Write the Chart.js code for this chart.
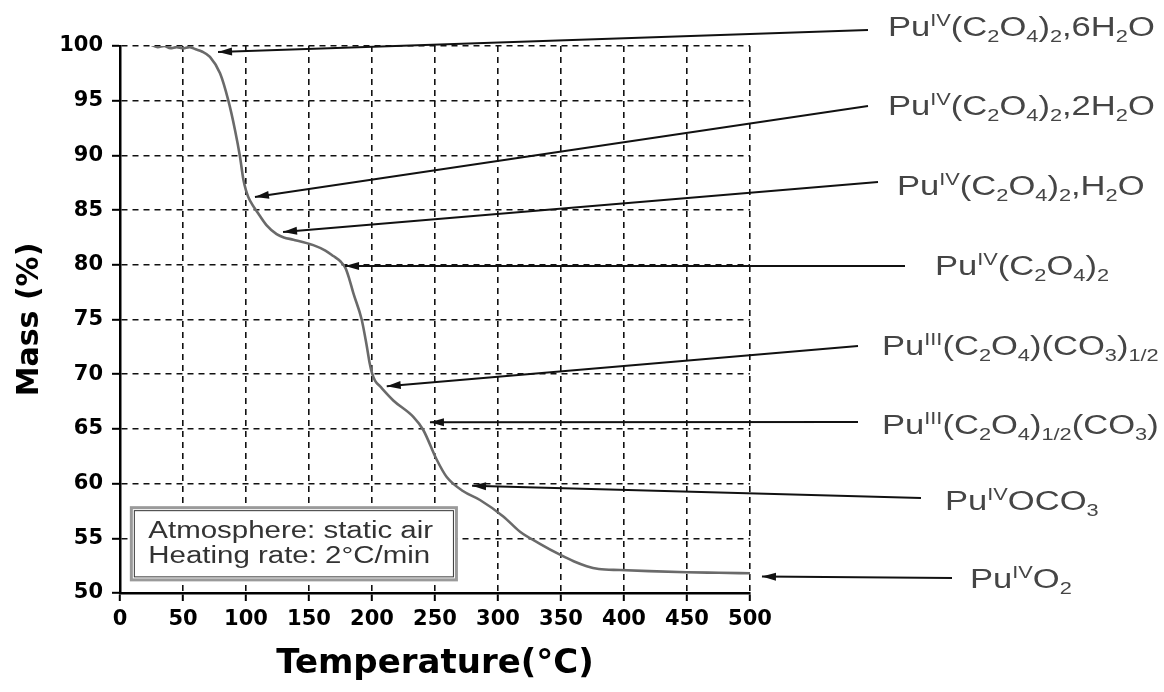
<!DOCTYPE html>
<html>
<head>
<meta charset="utf-8">
<script src="https://cdn.jsdelivr.net/npm/chart.js@4.4.1/dist/chart.umd.min.js"></script>
<style>
  html, body { margin: 0; padding: 0; background: #fff; }
  #wrap { width: 1164px; height: 692px; position: relative; }
</style>
</head>
<body>
<div id="wrap"><canvas id="tga"></canvas></div>
<script>
// TGA of Pu(IV) oxalate hexahydrate — mass loss vs temperature

// ── DATA ─────────────────────────────────────────────
const TEMP = [25, 30, 35, 40, 45, 50, 55, 60, 65, 71.4, 79.4, 86, 91.3, 95.2, 97.9, 100, 101.8,
  105, 108.5, 116.4, 124.3, 130, 137.6, 153.4, 163, 169.3, 175, 179, 182, 185.2, 191.8, 195.8,
  198, 200, 202.5, 206.3, 216.9, 232.8, 240.7, 251.3, 259.3, 272.5, 285.7, 304.2, 317.5,
  333.3, 349.2, 360, 370.4, 380, 396.8, 420, 449.7, 475, 500];
const MASS = [100.1, 99.9, 100.0, 99.8, 99.9, 99.8, 99.9, 99.7, 99.5, 99.0, 97.5, 95.0, 92.3, 89.9, 87.8, 86.8, 86.2,
  85.5, 84.9, 83.6, 82.8, 82.5, 82.3, 81.8, 81.3, 80.8, 80.3, 79.7, 78.7, 77.4, 75.0, 72.6,
  71.1, 70.1, 69.4, 68.9, 67.6, 66.1, 64.9, 62.2, 60.6, 59.3, 58.5, 57.0, 55.6,
  54.5, 53.5, 52.9, 52.45, 52.2, 52.1, 52.0, 51.9, 51.85, 51.8];

const X_TICKS = [0, 50, 100, 150, 200, 250, 300, 350, 400, 450, 500];
const Y_TICKS = [50, 55, 60, 65, 70, 75, 80, 85, 90, 95, 100];

// species labels (^{} superscript, _{} subscript)
const SPECIES = [
  'Pu^{IV}(C_{2}O_{4})_{2},6H_{2}O',
  'Pu^{IV}(C_{2}O_{4})_{2},2H_{2}O',
  'Pu^{IV}(C_{2}O_{4})_{2},H_{2}O',
  'Pu^{IV}(C_{2}O_{4})_{2}',
  'Pu^{III}(C_{2}O_{4})(CO_{3})_{1/2}',
  'Pu^{III}(C_{2}O_{4})_{1/2}(CO_{3})',
  'Pu^{IV}OCO_{3}',
  'Pu^{IV}O_{2}'
];
// where each arrow points on the curve (°C, mass %)
const ARROW_T = [77.8, 107.1, 129.4, 178.6, 211.7, 246, 279.4, 509.5];
const ARROW_M = [99.45, 86.2, 83.0, 79.9, 68.9, 65.6, 59.8, 51.5];

const NOTE_LINES = ['Atmosphere: static air', 'Heating rate: 2°C/min'];

// ── LAYOUT (pixels) ──────────────────────────────────
const TAIL_X = [868, 868, 878, 905, 858, 858, 921, 952];
const TAIL_Y = [30, 106, 182, 266, 346, 422, 498, 578];
const TEXT_X = [888, 888, 897, 935, 882, 882, 945, 970];
const TEXT_Y = [36, 115, 195, 275, 355, 434, 510, 588];
const STRETCH = 1.28;

function parseRich(s) {
  const out = [];
  const re = /([\^_])\{([^}]*)\}|([^\^_]+)/g;
  let m;
  while ((m = re.exec(s))) {
    if (m[3]) out.push({ t: m[3], k: 'n' });
    else out.push({ t: m[2], k: m[1] === '^' ? 'sup' : 'sub' });
  }
  return out;
}

function drawRich(ctx, str, x, y) {
  ctx.save();
  ctx.translate(x, y);
  ctx.scale(STRETCH, 1);
  ctx.textBaseline = 'alphabetic';
  ctx.textAlign = 'left';
  let cx = 0;
  parseRich(str).forEach(p => {
    let dy = 0;
    if (p.k === 'n') ctx.font = '27px "Liberation Sans", Arial, sans-serif';
    else ctx.font = '17px "Liberation Sans", Arial, sans-serif';
    if (p.k === 'sup') dy = -10;
    if (p.k === 'sub') dy = 6;
    ctx.fillText(p.t, cx, dy);
    cx += ctx.measureText(p.t).width;
  });
  ctx.restore();
}

function arrow(ctx, x1, y1, x2, y2) {
  // line from (x1,y1) to tip (x2,y2)
  ctx.beginPath();
  ctx.moveTo(x1, y1);
  ctx.lineTo(x2, y2);
  ctx.stroke();
  const a = Math.atan2(y2 - y1, x2 - x1);
  const L = 14, W = 4;
  ctx.beginPath();
  ctx.moveTo(x2, y2);
  ctx.lineTo(x2 - L * Math.cos(a) + W * Math.sin(a), y2 - L * Math.sin(a) - W * Math.cos(a));
  ctx.lineTo(x2 - L * Math.cos(a) - W * Math.sin(a), y2 - L * Math.sin(a) + W * Math.cos(a));
  ctx.closePath();
  ctx.fill();
}

const annotations = {
  id: 'annotations',
  afterDraw(chart) {
    const { ctx, scales: { x, y } } = chart;
    ctx.save();

    // note box
    const bx = x.getPixelForValue(9), by = y.getPixelForValue(57.8);
    const bw = x.getPixelForValue(267) - bx, bh = y.getPixelForValue(51.2) - by;
    ctx.fillStyle = '#fff';
    ctx.fillRect(bx, by, bw, bh);
    ctx.strokeStyle = '#9a9a9a';
    ctx.lineWidth = 3;
    ctx.strokeRect(bx, by, bw, bh);
    ctx.strokeStyle = '#333';
    ctx.lineWidth = 1;
    ctx.strokeRect(bx + 3, by + 3, bw - 6, bh - 6);
    ctx.fillStyle = '#333';
    NOTE_LINES.forEach((line, i) => {
      ctx.save();
      ctx.translate(bx + 17, by + 30 + i * 25);
      ctx.scale(STRETCH, 1);
      ctx.font = '23px "Liberation Sans", Arial, sans-serif';
      ctx.textBaseline = 'alphabetic';
      ctx.fillText(line, 0, 0);
      ctx.restore();
    });

    // arrows + species labels
    ctx.strokeStyle = '#111';
    ctx.fillStyle = '#111';
    ctx.lineWidth = 2;
    SPECIES.forEach((s, i) => {
      const tx = x.getPixelForValue(ARROW_T[i]);
      const ty = y.getPixelForValue(ARROW_M[i]);
      arrow(ctx, TAIL_X[i], TAIL_Y[i], tx, ty);
    });
    ctx.fillStyle = '#454545';
    SPECIES.forEach((s, i) => drawRich(ctx, s, TEXT_X[i], TEXT_Y[i]));
    ctx.restore();
  }
};

const points = TEMP.map((t, i) => ({ x: t, y: MASS[i] }));

new Chart(document.getElementById('tga'), {
  type: 'line',
  data: {
    datasets: [{
      data: points,
      borderColor: '#6a6a6a',
      borderWidth: 2.6,
      pointRadius: 0,
      cubicInterpolationMode: 'monotone',
      fill: false
    }]
  },
  options: {
    responsive: true,
    maintainAspectRatio: false,
    animation: false,
    layout: { padding: { top: 46, right: 414, bottom: 0, left: 0 } },
    plugins: { legend: { display: false }, tooltip: { enabled: false } },
    scales: {
      x: {
        type: 'linear',
        min: 0, max: 500,
        afterBuildTicks: s => { s.ticks = X_TICKS.map(v => ({ value: v })); },
        afterFit: s => { s.height = 99; },
        ticks: {
          color: '#000',
          padding: 6,
          maxRotation: 0,
          font: { family: '"DejaVu Sans"', weight: 'bold', size: 21 }
        },
        grid: {
          color: '#111',
          lineWidth: 1.6,
          tickLength: 8,
          tickWidth: 2,
          tickColor: '#000',
          tickBorderDash: []
        },
        border: { display: true, color: '#000', width: 2.5, dash: [6, 5] },
        title: {
          display: true,
          text: 'Temperature(°C)',
          color: '#000',
          padding: { top: 0, bottom: 7 },
          font: { family: '"DejaVu Sans"', weight: 'bold', size: 34 }
        }
      },
      y: {
        min: 50, max: 100,
        afterBuildTicks: s => { s.ticks = Y_TICKS.map(v => ({ value: v })); },
        afterFit: s => { s.width = 120; },
        ticks: {
          color: '#000',
          padding: 9,
          font: { family: '"DejaVu Sans"', weight: 'bold', size: 21 }
        },
        grid: {
          color: '#111',
          lineWidth: 1.6,
          tickLength: 8,
          tickWidth: 2,
          tickColor: '#000',
          tickBorderDash: []
        },
        border: { display: true, color: '#000', width: 2.5, dash: [6, 5] },
        title: {
          display: true,
          text: 'Mass (%)',
          color: '#000',
          padding: { top: 12, bottom: 0 },
          font: { family: '"DejaVu Sans"', weight: 'bold', size: 30 }
        }
      }
    }
  },
  plugins: [annotations]
});
</script>
</body>
</html>
